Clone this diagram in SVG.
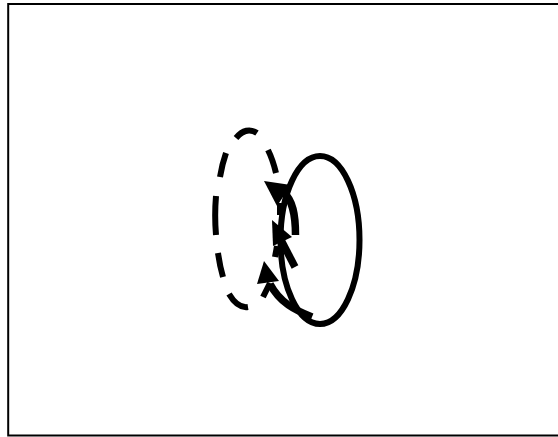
<svg xmlns="http://www.w3.org/2000/svg" width="558" height="437" viewBox="0 0 558 437">
<style>
.l{fill:none;stroke:#000;stroke-width:6}
.t{fill:none;stroke:#000;stroke-width:7.5}
.h{fill:#000;stroke:none}
</style>
<rect width="558" height="437" fill="#fff"/>
<rect id="frame" x="8.2" y="4" width="600" height="431.5" fill="none" stroke="#000" stroke-width="2"/>
<g id="node-solid"><ellipse class="l" cx="320" cy="240" rx="39.5" ry="84"/></g>
<g id="node-dashed"><path class="l" d="M248 307A32.5 88 0 0 1 229 294M223 277A32.5 88 0 0 1 218 253M216 235A32.5 88 0 0 1 216 196M220 177A32.5 88 0 0 1 226 153M236 138A32.5 88 0 0 1 257 133M268 150A32.5 88 0 0 1 276 173"/></g>
<g id="connectors">
<path class="l" d="M280 203V215"/>
<path class="t" d="M295.500 235C295.500 215 293 200 283 192"/>
<path class="h" d="M264 181L291 185L277 206Z"/>
<path class="t" d="M295 267L281 240"/>
<path class="l" d="M277 246L275 257"/>
<path class="h" d="M272 220L292 237L273 246Z"/>
<path class="t" d="M312 317C295 310 280 303 270 284"/>
<path class="l" d="M263 297L270 283"/>
<path class="h" d="M264 261L257 284L279 281Z"/>
</g>
</svg>
